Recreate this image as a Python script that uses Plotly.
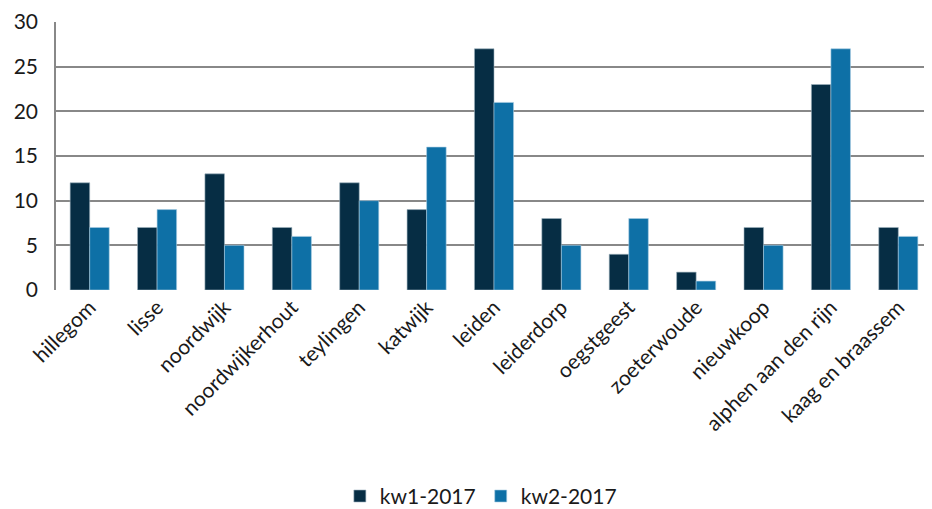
import plotly.graph_objects as go

gemeenten = ["hillegom", "lisse", "noordwijk", "noordwijkerhout", "teylingen", "katwijk",
             "leiden", "leiderdorp", "oegstgeest", "zoeterwoude", "nieuwkoop",
             "alphen aan den rijn", "kaag en braassem"]
kw1_2017 = [12, 7, 13, 7, 12, 9, 27, 8, 4, 2, 7, 23, 7]
kw2_2017 = [7, 9, 5, 6, 10, 16, 21, 5, 8, 1, 5, 27, 6]

fig = go.Figure()
fig.add_trace(go.Bar(x=gemeenten, y=kw1_2017, name="kw1-2017",
                     marker=dict(color="#062d44", line=dict(color="#9fb3c0", width=0.6))))
fig.add_trace(go.Bar(x=gemeenten, y=kw2_2017, name="kw2-2017",
                     marker=dict(color="#0e70a6", line=dict(color="#a9cce2", width=0.6))))

# the page body has an 8px margin, so the figure is sized a bit smaller
fig.update_layout(
    width=924,
    height=501,
    barmode="group",
    bargap=0.42,
    bargroupgap=0,
    plot_bgcolor="white",
    paper_bgcolor="white",
    font=dict(family="Lato, Open Sans, sans-serif", size=20, color="#1a1a1a"),
    margin=dict(l=48, r=0, t=14, b=219, autoexpand=False),
    legend=dict(
        orientation="h",
        x=0.485,
        xanchor="center",
        y=-0.77,
        yanchor="middle",
        font=dict(size=21),
        itemwidth=30,
    ),
)

fig.update_yaxes(
    range=[0, 30],
    dtick=5,
    showgrid=True,
    gridcolor="#888888",
    gridwidth=1.6,
    showline=True,
    linecolor="#888888",
    linewidth=1.6,
    zeroline=False,
    ticks="",
    ticklabelstandoff=12,
    automargin=False,
    tickfont=dict(size=21),
)

fig.update_xaxes(
    tickangle=-45,
    showgrid=False,
    showline=False,
    ticks="",
    automargin=False,
    tickfont=dict(size=21),
)

fig.write_html("out.html")
